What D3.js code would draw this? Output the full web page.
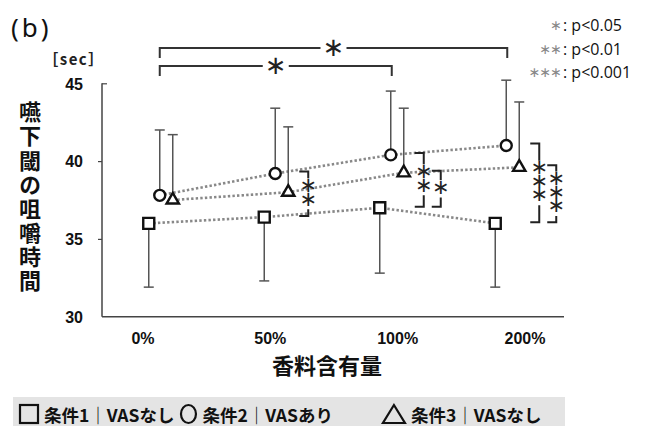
<!DOCTYPE html>
<html>
<head>
<meta charset="utf-8">
<script src="https://cdn.jsdelivr.net/npm/d3@7"></script>
<style>
  html, body { margin: 0; padding: 0; background: #fff; }
  svg { display: block; }
  .jp { font-family: "Noto Sans CJK JP", "Noto Sans", sans-serif; }
  .jpv { font-family: "Noto Sans CJK JP", sans-serif; writing-mode: vertical-rl; text-orientation: upright; }
  .num { font-family: "Liberation Sans", Arial, sans-serif; }
  .star { font-family: "DejaVu Sans", sans-serif; }
  .vstar { font-family: "DejaVu Sans", sans-serif; writing-mode: vertical-rl; text-orientation: upright; }
</style>
</head>
<body>
<svg id="chart" width="651" height="426"></svg>
<script>
// Fragrance content levels (x categories)
const categories = ["0%", "50%", "100%", "200%"];

// Condition 1 (square): mean and lower SD end
const cond1Mean  = [36.0, 36.4, 37.0, 36.0];
const cond1Lower = [31.9, 32.3, 32.8, 31.9];

// Condition 2 (circle): mean and upper SD end
const cond2Mean  = [37.8, 39.2, 40.4, 41.0];
const cond2Upper = [42.0, 43.4, 44.5, 45.2];

// Condition 3 (triangle): mean and upper SD end
const cond3Mean  = [37.5, 38.0, 39.25, 39.6];
const cond3Upper = [41.7, 42.2, 43.4, 43.8];

const yTicks = [30, 35, 40, 45];
const legendLabels = ["条件1｜VASなし", "条件2｜VASあり", "条件3｜VASなし"];
const yTitle = "嚥下閾の咀嚼時間";
const pLegendStars = ["∗", "∗∗", "∗∗∗"];
const pLegendText = [": p<0.05", ": p<0.01", ": p<0.001"];

// Significance between levels (condition 2) and within levels (vs condition 1)
const topBrackets = [
  { from: "0%", to: "200%", label: "∗" },
  { from: "0%", to: "100%", label: "∗" }
];
const sideBrackets = [
  { cat: "50%",  upper: 1, rank: 0, label: "∗∗" },
  { cat: "100%", upper: 1, rank: 0, label: "∗∗" },
  { cat: "100%", upper: 2, rank: 1, label: "∗" },
  { cat: "200%", upper: 1, rank: 0, label: "∗∗∗" },
  { cat: "200%", upper: 2, rank: 1, label: "∗∗∗" }
];

const svg = d3.select("#chart");
const plot = { left: 102, right: 564, top: 83.3, bottom: 316.7 };

const x = d3.scaleBand().domain(categories).range([plot.left, plot.right]);
const xLabel = d3.scalePoint().domain(categories).range([143, 525]);
const y = d3.scaleLinear().domain([30, 45]).range([plot.bottom, plot.top]);
const cx = c => x(c) + x.bandwidth() / 2;

const series = [
  { mean: cond1Mean, end: cond1Lower, dx: -11, symbol: d3.symbolSquare, size: 121 },
  { mean: cond2Mean, end: cond2Upper, dx: 0,   symbol: d3.symbolCircle, size: 95 },
  { mean: cond3Mean, end: cond3Upper, dx: 13,  symbol: d3.symbolTriangle, size: 66 }
];

// Axes
const yAxis = d3.axisLeft(y).tickValues(yTicks).tickSize(4).tickFormat(d3.format("d"));
const gy = svg.append("g").attr("transform", `translate(${plot.left},0)`).call(yAxis);
gy.select(".domain").attr("stroke", "#444").attr("stroke-width", 1.5)
  .attr("d", `M-0,${plot.top}H0V${plot.bottom}`);
gy.selectAll(".tick line").attr("stroke", "#444").attr("stroke-width", 1.2);
gy.selectAll(".tick").filter(d => d === 45).select("line").attr("x2", 5);
gy.selectAll(".tick").filter(d => d === 30).select("line").remove();
gy.selectAll(".tick text").attr("x", -19).attr("dy", "0.36em")
  .attr("class", "num").attr("font-size", 16).attr("font-weight", "bold").attr("fill", "#111");

svg.append("line").attr("x1", plot.left).attr("x2", plot.right)
  .attr("y1", plot.bottom).attr("y2", plot.bottom)
  .attr("stroke", "#444").attr("stroke-width", 1.5);

svg.append("g").selectAll("text").data(categories).join("text")
  .attr("class", "num").attr("x", d => xLabel(d)).attr("y", 344)
  .attr("text-anchor", "middle").attr("font-size", 16).attr("font-weight", "bold")
  .attr("fill", "#111").text(d => d);

// Axis titles
svg.append("text").attr("class", "jp").attr("x", 327).attr("y", 374)
  .attr("text-anchor", "middle").attr("font-size", 22).attr("font-weight", "bold")
  .attr("fill", "#111").text("香料含有量");

// Vertical y title, one string in vertical writing mode
svg.append("text").attr("class", "jpv").attr("x", 30).attr("y", 101)
  .attr("font-size", 22).attr("font-weight", "bold").attr("letter-spacing", 2.1)
  .attr("fill", "#111").text(yTitle);

svg.append("text").attr("class", "jp").attr("x", 74).attr("y", 65)
  .attr("text-anchor", "middle").attr("font-size", 15).attr("font-weight", "bold")
  .attr("letter-spacing", 1.5).attr("fill", "#222").text("［sec］");

svg.append("text").attr("x", 11).attr("y", 37).attr("font-family", "Noto Sans, sans-serif")
  .attr("font-size", 26).attr("letter-spacing", 3).attr("fill", "#111").text("(b)");

// p-value key
const pk = svg.append("g");
pLegendStars.forEach((s, i) => {
  const by = 31 + i * 23.5;
  pk.append("text").attr("class", "star").attr("x", 561).attr("y", by - 1)
    .attr("text-anchor", "end").attr("font-size", 14).attr("letter-spacing", -1)
    .attr("fill", "#888").text(s);
  pk.append("text").attr("x", 563).attr("y", by)
    .attr("font-family", "Open Sans, sans-serif").attr("font-size", 16)
    .attr("fill", "#111").text(pLegendText[i]);
});

// Dotted connecting lines
const line = d3.line();
series.forEach(s => {
  svg.append("path")
    .attr("d", line(categories.map((c, i) => [cx(c) + s.dx, y(s.mean[i])])))
    .attr("fill", "none").attr("stroke", "#888").attr("stroke-width", 2.6)
    .attr("stroke-dasharray", "2.4 2.2");
});

// Error bars (one-sided SD)
series.forEach(s => {
  const g = svg.append("g").attr("stroke", "#555").attr("stroke-width", 1.5);
  categories.forEach((c, i) => {
    const px = cx(c) + s.dx;
    g.append("line").attr("x1", px).attr("x2", px)
      .attr("y1", y(s.mean[i])).attr("y2", y(s.end[i]));
    g.append("line").attr("x1", px - 5).attr("x2", px + 5)
      .attr("y1", y(s.end[i])).attr("y2", y(s.end[i]));
  });
});

// Markers
series.forEach(s => {
  svg.append("g").selectAll("path").data(categories).join("path")
    .attr("transform", (c, i) => `translate(${cx(c) + s.dx},${y(s.mean[i])})`)
    .attr("d", d3.symbol(s.symbol, s.size))
    .attr("fill", "#fff").attr("stroke", "#111").attr("stroke-width", 2.4);
});

// Brackets between levels (above the plot)
topBrackets.forEach((b, k) => {
  const by = k === 0 ? 48 : 66;
  const x1 = cx(b.from), x2 = cx(b.to) + 1;
  const mid = (x1 + x2) / 2;
  const g = svg.append("g").attr("stroke", "#333").attr("stroke-width", 2).attr("fill", "none");
  g.append("path").attr("d", `M${x1},${by + 10}V${by}H${mid - 13}`);
  g.append("path").attr("d", `M${mid + 13},${by}H${x2}V${by + 10}`);
  svg.append("text").attr("class", "star").attr("x", mid).attr("y", by + 8)
    .attr("text-anchor", "middle")
    .attr("font-size", 26).attr("fill", "#222").text(b.label);
});

// Brackets within a level (condition vs condition 1); stars set as one vertical string
sideBrackets.forEach(b => {
  const i = categories.indexOf(b.cat);
  const bx = cx(b.cat) + 33 + b.rank * 17;
  const yTop = y(series[b.upper].mean[i]) - 2;
  const yBot = y(cond1Mean[i]) - 1;
  const n = [...b.label].length;
  const step = 13.5;
  const fs = 21;
  const mid = (yTop + yBot) / 2;
  const gap = n * step / 2 + 2;
  const g = svg.append("g").attr("stroke", "#222").attr("stroke-width", 2).attr("fill", "none");
  g.append("path").attr("d", `M${bx - 9},${yTop}H${bx}V${mid - gap}`);
  g.append("path").attr("d", `M${bx},${mid + gap}V${yBot}H${bx - 9}`);
  const t = svg.append("text").attr("class", "vstar")
    .attr("font-size", fs).attr("fill", "#222").text(b.label);
  const adv = t.node().getComputedTextLength() / n;
  t.attr("letter-spacing", step - adv)
    .attr("x", bx).attr("y", mid - (n - 1) / 2 * step - adv / 2 - 2);
});

// Legend strip
svg.append("rect").attr("x", 13).attr("y", 397).attr("width", 552).attr("height", 35)
  .attr("fill", "#e4e4e4");
const leg = svg.append("g");
let lx = 20;
const legendMarks = [
  g => g.append("rect").attr("x", 0).attr("y", -9).attr("width", 18).attr("height", 18),
  g => g.append("ellipse").attr("cx", 8).attr("cy", 0).attr("rx", 7.5).attr("ry", 9),
  g => g.append("path").attr("d", "M11,-9L22,9H0Z")
];
const markW = [18, 16, 22];
const gapsBefore = [0, 6, 50];
legendLabels.forEach((t, i) => {
  lx += gapsBefore[i];
  const g = leg.append("g").attr("transform", `translate(${lx},414)`)
    .attr("fill", "none").attr("stroke", "#111").attr("stroke-width", 2.2);
  legendMarks[i](g);
  const txt = leg.append("text").attr("class", "jp").attr("x", lx + markW[i] + 6).attr("y", 414)
    .attr("dominant-baseline", "central").attr("font-size", 17.5).attr("font-weight", "bold")
    .attr("fill", "#111").text(t);
  lx += markW[i] + 6 + txt.node().getComputedTextLength();
});
</script>
</body>
</html>
